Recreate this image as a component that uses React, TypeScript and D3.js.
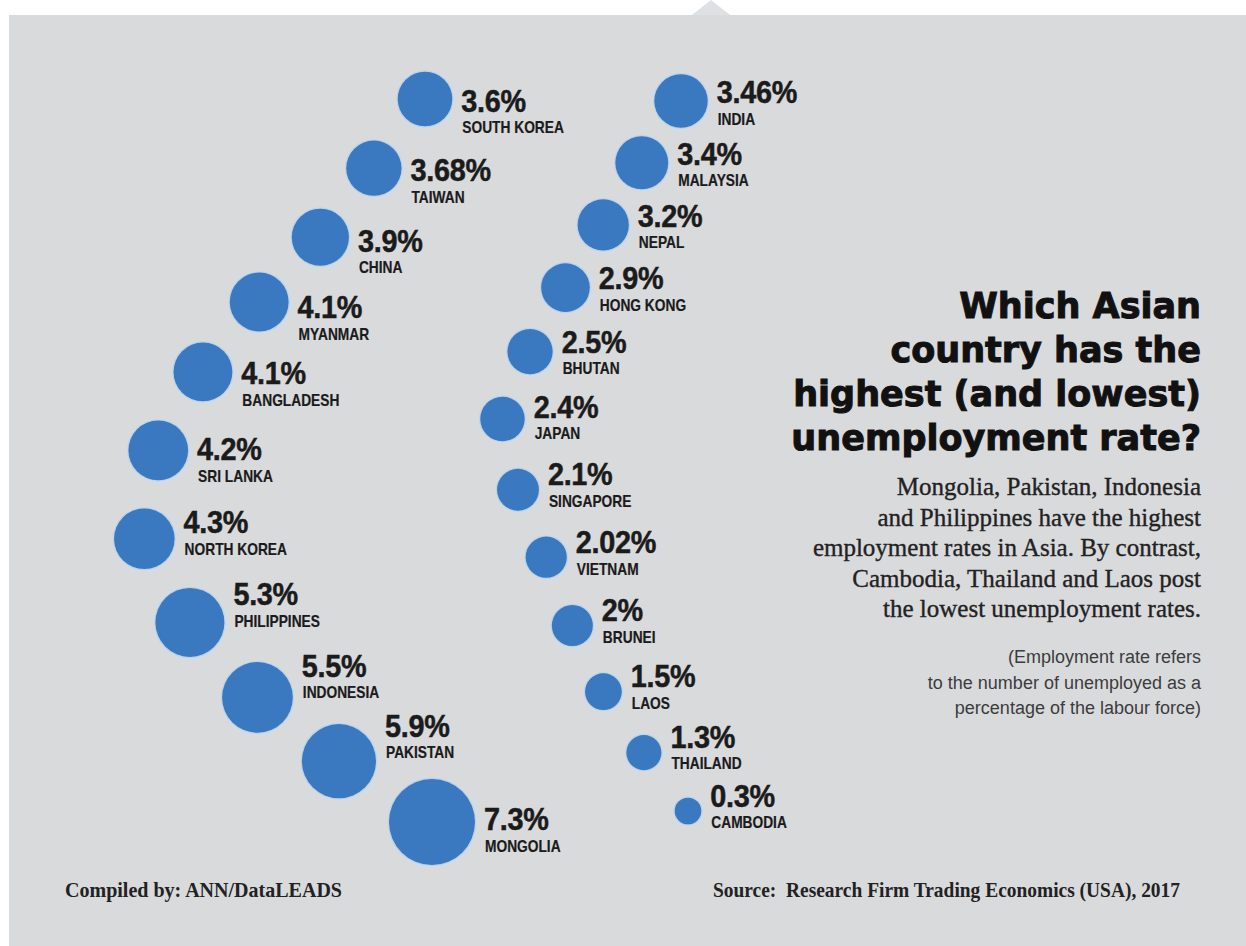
import React, { useMemo } from "react";
import * as d3 from "d3";

// ---------- DATA ----------
const leftCountries = ["SOUTH KOREA", "TAIWAN", "CHINA", "MYANMAR", "BANGLADESH", "SRI LANKA", "NORTH KOREA", "PHILIPPINES", "INDONESIA", "PAKISTAN", "MONGOLIA"];
const leftRates = [3.6, 3.68, 3.9, 4.1, 4.1, 4.2, 4.3, 5.3, 5.5, 5.9, 7.3];
const rightCountries = ["INDIA", "MALAYSIA", "NEPAL", "HONG KONG", "BHUTAN", "JAPAN", "SINGAPORE", "VIETNAM", "BRUNEI", "LAOS", "THAILAND", "CAMBODIA"];
const rightRates = [3.46, 3.4, 3.2, 2.9, 2.5, 2.4, 2.1, 2.02, 2, 1.5, 1.3, 0.3];

const titleLines = ["Which Asian", "country has the", "highest (and lowest)", "unemployment rate?"];
const subtitleLines = [
  "Mongolia, Pakistan, Indonesia",
  "and Philippines have the highest",
  "employment rates in Asia. By contrast,",
  "Cambodia, Thailand and Laos post",
  "the lowest unemployment rates.",
];
const noteLines = ["(Employment rate refers", "to the number of unemployed as a", "percentage of the labour force)"];
const compiledBy = "Compiled by: ANN/DataLEADS";
const sourceText = "Source:  Research Firm Trading Economics (USA), 2017";

// ---------- LAYOUT (guide curves the bubbles are strung along) ----------
const LEFT_GUIDE: [number, number][] = [[425, 99], [323, 234], [206, 367], [142, 525], [249, 689], [432, 822]];
const RIGHT_GUIDE: [number, number][] = [[681, 101], [602, 227], [527, 358], [502, 427], [545, 554], [603, 691], [688, 811]];

const W = 1246;
const H = 946;
const BG = "#d9dadc";
const BLUE = "#3a78bf";
const INK = "#1b1b1b";

const rScale = d3.scaleLinear().domain([0, 7.3]).range([12, 43]);

type Guide = { pts: [number, number][]; cum: number[]; length: number };

function flatten(points: [number, number][]): Guide {
  const out: [number, number][] = [];
  let x0 = 0, y0 = 0;
  const ctx: any = {
    moveTo(x: number, y: number) { out.push([x, y]); x0 = x; y0 = y; },
    lineTo(x: number, y: number) { out.push([x, y]); x0 = x; y0 = y; },
    bezierCurveTo(x1: number, y1: number, x2: number, y2: number, x: number, y: number) {
      const N = 60;
      for (let i = 1; i <= N; i++) {
        const t = i / N, m = 1 - t;
        out.push([
          m * m * m * x0 + 3 * m * m * t * x1 + 3 * m * t * t * x2 + t * t * t * x,
          m * m * m * y0 + 3 * m * m * t * y1 + 3 * m * t * t * y2 + t * t * t * y,
        ]);
      }
      x0 = x; y0 = y;
    },
    quadraticCurveTo(x1: number, y1: number, x: number, y: number) {
      const N = 40;
      for (let i = 1; i <= N; i++) {
        const t = i / N, m = 1 - t;
        out.push([m * m * x0 + 2 * m * t * x1 + t * t * x, m * m * y0 + 2 * m * t * y1 + t * t * y]);
      }
      x0 = x; y0 = y;
    },
    closePath() {},
  };
  d3.line().curve(d3.curveCatmullRom.alpha(0.5)).context(ctx)(points);
  const cum = [0];
  for (let i = 1; i < out.length; i++) {
    cum.push(cum[i - 1] + Math.hypot(out[i][0] - out[i - 1][0], out[i][1] - out[i - 1][1]));
  }
  return { pts: out, cum, length: cum[cum.length - 1] };
}

function pointAt(g: Guide, s: number): [number, number] {
  const ss = Math.max(0, Math.min(g.length, s));
  const i = Math.max(1, d3.bisectLeft(g.cum, ss));
  const a = g.pts[i - 1], b = g.pts[i];
  const seg = g.cum[i] - g.cum[i - 1] || 1;
  const t = (ss - g.cum[i - 1]) / seg;
  return [a[0] + (b[0] - a[0]) * t, a[1] + (b[1] - a[1]) * t];
}

type ColCfg = { weight: number; dyFactor: number; dyBias: number; endDy: number | null };

function layoutColumn(values: number[], names: string[], guideDef: [number, number][], cfg: ColCfg) {
  const g = flatten(guideDef);
  const radii = values.map((v) => rScale(v));
  const n = values.length;
  let pairSum = 0;
  for (let i = 0; i < n - 1; i++) pairSum += radii[i] + radii[i + 1];
  const gap = (g.length - cfg.weight * pairSum) / (n - 1);
  let s = 0;
  return values.map((v, i) => {
    if (i > 0) s += cfg.weight * (radii[i - 1] + radii[i]) + gap;
    const [cx, cy] = pointAt(g, s);
    const p0 = pointAt(g, s - 5), p1 = pointAt(g, s + 5);
    const len = Math.hypot(p1[0] - p0[0], p1[1] - p0[1]) || 1;
    const tx = (p1[0] - p0[0]) / len;
    const ny = -tx;
    const r = radii[i];
    const dy = i === n - 1 && cfg.endDy !== null ? cfg.endDy : cfg.dyFactor * r * ny + cfg.dyBias;
    return { name: names[i], value: v, cx, cy, r, dy };
  });
}

export default function App() {
  const bubbles = useMemo(() => {
    const left = layoutColumn(leftRates, leftCountries, LEFT_GUIDE, { weight: 1, dyFactor: 0.8, dyBias: 0, endDy: 8 });
    const right = layoutColumn(rightRates, rightCountries, RIGHT_GUIDE, { weight: 0, dyFactor: 0.3, dyBias: -2, endDy: null });
    return [...left, ...right];
  }, []);

  const titleY = d3.scaleLinear().domain([0, 1]).range([318, 362]);
  const subY = d3.scaleLinear().domain([0, 1]).range([495, 525.5]);
  const noteY = d3.scaleLinear().domain([0, 1]).range([663, 688.5]);

  return (
    <svg width={W} height={H} style={{ position: "absolute", left: 0, top: 0, background: "#fff" }}>
      <rect x={9} y={15} width={W - 9} height={H - 15} fill={BG} />
      <polygon points="692,15 711,0 730,15" fill="#dde1e4" />

      {bubbles.map((b) => (
        <g key={b.name}>
          <circle cx={b.cx} cy={b.cy} r={b.r + 1.2} fill="#b9d3ec" />
          <circle cx={b.cx} cy={b.cy} r={b.r} fill={BLUE} />
          <text
            transform={`translate(${b.cx + b.r + 9},${b.cy + b.dy}) scale(0.93,1)`}
            fontFamily="'Liberation Sans', Arial, sans-serif"
            fontWeight="bold"
            fontSize={31}
            fill={INK}
            stroke={INK}
            strokeWidth={0.5}
            letterSpacing={-0.3}
          >
            {`${b.value}%`}
          </text>
          <text
            transform={`translate(${b.cx + b.r + 10},${b.cy + b.dy + 21.5}) scale(0.86,1)`}
            fontFamily="'Liberation Sans', Arial, sans-serif"
            fontWeight="bold"
            fontSize={16}
            fill={INK}
            stroke={INK}
            strokeWidth={0.2}
          >
            {b.name}
          </text>
        </g>
      ))}

      <g fontFamily="'DejaVu Sans', sans-serif" fontWeight="bold" fontSize={35} fill="#111" stroke="#111" strokeWidth={1} textAnchor="end">
        {titleLines.map((t, i) => (
          <text key={t} x={1201} y={titleY(i)}>{t}</text>
        ))}
      </g>

      <g fontFamily="'Liberation Serif', 'Times New Roman', serif" fontSize={25} fill="#222" stroke="#222" strokeWidth={0.35} textAnchor="end">
        {subtitleLines.map((t, i) => (
          <text key={t} x={1201} y={subY(i)}>{t}</text>
        ))}
      </g>

      <g fontFamily="'Liberation Sans', Arial, sans-serif" fontSize={18} fill="#3c3c3c" textAnchor="end">
        {noteLines.map((t, i) => (
          <text key={t} x={1201} y={noteY(i)}>{t}</text>
        ))}
      </g>

      <g fontFamily="'Liberation Serif', 'Times New Roman', serif" fontWeight="bold" fontSize={22} fill="#222">
        <text x={65} y={897} textLength={277} lengthAdjust="spacingAndGlyphs">{compiledBy}</text>
        <text x={713} y={897} textLength={467} lengthAdjust="spacingAndGlyphs" style={{ whiteSpace: "pre" }}>{sourceText}</text>
      </g>
    </svg>
  );
}
